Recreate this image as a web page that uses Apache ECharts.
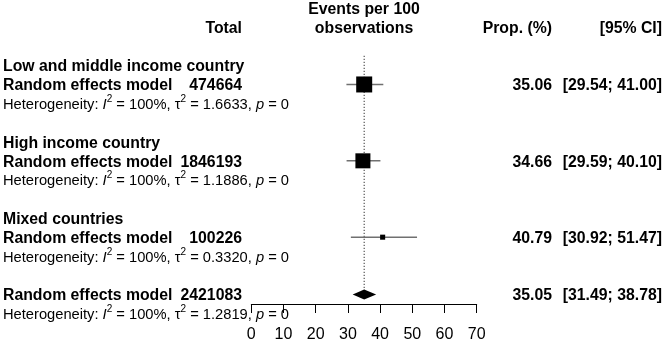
<!DOCTYPE html>
<html>
<head>
<meta charset="utf-8">
<script src="https://cdn.jsdelivr.net/npm/echarts@6/dist/echarts.min.js"></script>
<style>
html, body { margin: 0; padding: 0; background: #fff; }
#forest { width: 664px; height: 342px; }
</style>
</head>
<body>
<div id="forest"></div>
<script>
// subgroup results (random effects)
var groupNames = ['Low and middle income country', 'High income country', 'Mixed countries'];
var groupTotals = [474664, 1846193, 100226];
var groupProps = [35.06, 34.66, 40.79];
var groupLower = [29.54, 29.59, 30.92];
var groupUpper = [41.00, 40.10, 51.47];
var groupI2 = [100, 100, 100];
var groupTau2 = ['1.6633', '1.1886', '0.3320'];
var groupP = [0, 0, 0];
var groupWeights = [1.0, 0.88, 0.1]; // relative box area

// overall result
var overallTotal = 2421083;
var overallProp = 35.05;
var overallLower = 31.49;
var overallUpper = 38.78;
var overallI2 = 100;
var overallTau2 = '1.2819';
var overallP = 0;

var xTicks = [0, 10, 20, 30, 40, 50, 60, 70];

var FONT = 'Liberation Sans, Arial, sans-serif';
var cols = { left: 3, total: 242, prop: 552, ci: 662 };
var textShift = 1.5; // text sits a touch below the row centre

function groupRow(i) { return 3 + 4 * i; }
function modelRow(i) { return 4 + 4 * i; }
function hetRow(i) { return 5 + 4 * i; }
var overallRow = 15;

function hetText(i2, tau2, p) {
    return '{n|Heterogeneity: }{it|I}{sup|2}{n| = ' + i2 + '%, τ}{sup|2}{n| = ' + tau2 + ', }{it|p}{n| = ' + p + '}';
}
function ciText(lo, hi) {
    return '[' + lo.toFixed(2) + '; ' + hi.toFixed(2) + ']';
}

// text cells of the table
var textItems = [
    { row: 0, col: 'mid', align: 'center', text: 'Events per 100' },
    { row: 1, col: 'mid', align: 'center', text: 'observations' },
    { row: 1, col: 'total', align: 'right', text: 'Total' },
    { row: 1, col: 'prop', align: 'right', text: 'Prop. (%)' },
    { row: 1, col: 'ci', align: 'right', text: '[95% CI]' }
];
groupNames.forEach(function (name, i) {
    textItems.push({ row: groupRow(i), col: 'left', align: 'left', text: name });
    textItems.push({ row: modelRow(i), col: 'left', align: 'left', text: 'Random effects model' });
    textItems.push({ row: modelRow(i), col: 'total', align: 'right', text: String(groupTotals[i]) });
    textItems.push({ row: modelRow(i), col: 'prop', align: 'right', text: groupProps[i].toFixed(2) });
    textItems.push({ row: modelRow(i), col: 'ci', align: 'right', text: ciText(groupLower[i], groupUpper[i]) });
    textItems.push({ row: hetRow(i), col: 'left', align: 'left', text: hetText(groupI2[i], groupTau2[i], groupP[i]), het: true });
});
textItems.push({ row: overallRow, col: 'left', align: 'left', text: 'Random effects model' });
textItems.push({ row: overallRow, col: 'total', align: 'right', text: String(overallTotal) });
textItems.push({ row: overallRow, col: 'prop', align: 'right', text: overallProp.toFixed(2) });
textItems.push({ row: overallRow, col: 'ci', align: 'right', text: ciText(overallLower, overallUpper) });
textItems.push({ row: overallRow + 1, col: 'left', align: 'left', text: hetText(overallI2, overallTau2, overallP), het: true });

var hetRich = {
    n: { fontSize: 14.7, fontFamily: FONT, fill: '#000', lineHeight: 22 },
    it: { fontSize: 14.7, fontFamily: FONT, fontStyle: 'italic', fill: '#000', lineHeight: 22 },
    sup: { fontSize: 10, fontFamily: FONT, fill: '#000', verticalAlign: 'top', lineHeight: 10 }
};

var boxData = groupNames.map(function (n, i) {
    return [groupProps[i], modelRow(i), groupLower[i], groupUpper[i], groupWeights[i]];
});

var myChart = echarts.init(document.getElementById('forest'));

var option = {
    animation: false,
    backgroundColor: '#fff',
    grid: {
        left: 251.3,
        right: 187.3,
        top: 8.1,
        bottom: 38,
        containLabel: false,
        outerBoundsMode: 'none'
    },
    xAxis: {
        type: 'value',
        position: 'bottom',
        min: xTicks[0],
        max: xTicks[xTicks.length - 1],
        interval: 10,
        axisLine: { show: true, onZero: false, lineStyle: { color: '#000', width: 1 } },
        axisTick: { show: true, length: 9, lineStyle: { color: '#000', width: 1 } },
        axisLabel: { color: '#000', fontSize: 16, fontFamily: FONT, margin: 23 },
        splitLine: { show: false }
    },
    yAxis: {
        type: 'value',
        inverse: true,
        min: 0,
        max: 15.5,
        show: false,
        splitLine: { show: false }
    },
    series: [
        {
            // dotted line at the overall estimate
            type: 'custom',
            data: [[overallProp, 2.5, overallRow]],
            encode: { x: 0, y: 1 },
            renderItem: function (params, api) {
                var top = api.coord([api.value(0), api.value(1)]);
                var bot = api.coord([api.value(0), api.value(2)]);
                return {
                    type: 'line',
                    shape: { x1: top[0], y1: top[1], x2: bot[0], y2: bot[1] },
                    style: { stroke: '#000', lineWidth: 1, lineDash: [1, 2] }
                };
            },
            z: 1
        },
        {
            // subgroup boxes with CI
            type: 'custom',
            data: boxData,
            encode: { x: 0, y: 1 },
            renderItem: function (params, api) {
                var c = api.coord([api.value(0), api.value(1)]);
                var lo = api.coord([api.value(2), api.value(1)]);
                var hi = api.coord([api.value(3), api.value(1)]);
                var s = 16 * Math.sqrt(api.value(4));
                return {
                    type: 'group',
                    children: [
                        {
                            type: 'line',
                            shape: { x1: lo[0], y1: lo[1], x2: hi[0], y2: hi[1] },
                            style: { stroke: '#707070', lineWidth: 1.5 }
                        },
                        {
                            type: 'rect',
                            shape: { x: c[0] - s / 2, y: c[1] - s / 2, width: s, height: s },
                            style: { fill: '#000' }
                        }
                    ]
                };
            },
            z: 2
        },
        {
            // overall diamond
            type: 'custom',
            data: [[overallProp, overallRow, overallLower, overallUpper]],
            encode: { x: 0, y: 1 },
            renderItem: function (params, api) {
                var c = api.coord([api.value(0), api.value(1)]);
                var lo = api.coord([api.value(2), api.value(1)]);
                var hi = api.coord([api.value(3), api.value(1)]);
                var h = 5;
                return {
                    type: 'polygon',
                    shape: { points: [[lo[0], c[1]], [c[0], c[1] - h], [hi[0], c[1]], [c[0], c[1] + h]] },
                    style: { fill: '#000' }
                };
            },
            z: 2
        },
        {
            // table text
            type: 'custom',
            data: textItems.map(function (t) { return [35, t.row]; }),
            encode: { x: 0, y: 1 },
            clip: false,
            renderItem: function (params, api) {
                var t = textItems[params.dataIndex];
                var p = api.coord([api.value(0), api.value(1)]);
                var x = t.col === 'mid' ? p[0] : cols[t.col];
                var style = {
                    text: t.text,
                    x: 0, y: 0,
                    align: t.align,
                    verticalAlign: 'middle',
                    fill: '#000',
                    fontFamily: FONT
                };
                if (t.het) {
                    style.rich = hetRich;
                    style.fontSize = 14.7;
                } else {
                    style.fontSize = 15.8;
                    style.fontWeight = 'bold';
                }
                return { type: 'text', x: x, y: p[1] + textShift, style: style };
            },
            z: 3
        }
    ]
};

myChart.setOption(option);
</script>
</body>
</html>
